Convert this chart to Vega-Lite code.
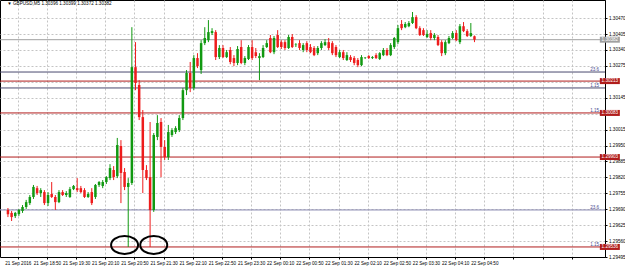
{
"$schema":"https://vega.github.io/schema/vega-lite/v6.json",
"width":605,"height":257,
"autosize":{"type":"none"},
"padding":{"left":0,"top":0,"right":20,"bottom":12},
"background":"white",
"config":{"view":{"stroke":"#000","strokeWidth":1},"font":"Liberation Sans"},
"resolve":{"axis":{"x":"independent","y":"independent"}},
"datasets":{
"candles":[
{"i":0,"o":1.29687,"h":1.29695,"l":1.29658,"c":1.29670},
{"i":1,"o":1.29675,"h":1.29683,"l":1.29642,"c":1.29658},
{"i":2,"o":1.29662,"h":1.29679,"l":1.29654,"c":1.29675},
{"i":3,"o":1.29670,"h":1.29691,"l":1.29662,"c":1.29687},
{"i":4,"o":1.29683,"h":1.29707,"l":1.29675,"c":1.29699},
{"i":5,"o":1.29699,"h":1.29728,"l":1.29691,"c":1.29719},
{"i":6,"o":1.29715,"h":1.29748,"l":1.29707,"c":1.29740},
{"i":7,"o":1.29740,"h":1.29789,"l":1.29732,"c":1.29781},
{"i":8,"o":1.29776,"h":1.29785,"l":1.29748,"c":1.29756},
{"i":9,"o":1.29756,"h":1.29776,"l":1.29740,"c":1.29768},
{"i":10,"o":1.29760,"h":1.29768,"l":1.29707,"c":1.29715},
{"i":11,"o":1.29715,"h":1.29760,"l":1.29703,"c":1.29748},
{"i":12,"o":1.29752,"h":1.29801,"l":1.29736,"c":1.29740},
{"i":13,"o":1.29740,"h":1.29748,"l":1.29687,"c":1.29719},
{"i":14,"o":1.29719,"h":1.29768,"l":1.29715,"c":1.29760},
{"i":15,"o":1.29760,"h":1.29768,"l":1.29744,"c":1.29748},
{"i":16,"o":1.29748,"h":1.29764,"l":1.29740,"c":1.29756},
{"i":17,"o":1.29740,"h":1.29781,"l":1.29736,"c":1.29772},
{"i":18,"o":1.29772,"h":1.29789,"l":1.29768,"c":1.29785},
{"i":19,"o":1.29776,"h":1.29817,"l":1.29760,"c":1.29768},
{"i":20,"o":1.29776,"h":1.29785,"l":1.29756,"c":1.29760},
{"i":21,"o":1.29768,"h":1.29776,"l":1.29736,"c":1.29740},
{"i":22,"o":1.29740,"h":1.29760,"l":1.29736,"c":1.29752},
{"i":23,"o":1.29760,"h":1.29776,"l":1.29707,"c":1.29715},
{"i":24,"o":1.29740,"h":1.29793,"l":1.29732,"c":1.29789},
{"i":25,"o":1.29789,"h":1.29805,"l":1.29781,"c":1.29801},
{"i":26,"o":1.29785,"h":1.29809,"l":1.29776,"c":1.29801},
{"i":27,"o":1.29801,"h":1.29825,"l":1.29793,"c":1.29821},
{"i":28,"o":1.29817,"h":1.29874,"l":1.29809,"c":1.29858},
{"i":29,"o":1.29850,"h":1.29866,"l":1.29809,"c":1.29821},
{"i":30,"o":1.29825,"h":1.29981,"l":1.29817,"c":1.29952},
{"i":31,"o":1.29948,"h":1.29972,"l":1.29715,"c":1.29838},
{"i":32,"o":1.29842,"h":1.29858,"l":1.29768,"c":1.29781},
{"i":33,"o":1.29781,"h":1.29817,"l":1.29536,"c":1.29797},
{"i":34,"o":1.29797,"h":1.30433,"l":1.29789,"c":1.30270},
{"i":35,"o":1.30270,"h":1.30372,"l":1.30176,"c":1.30205},
{"i":36,"o":1.30197,"h":1.30217,"l":1.30054,"c":1.30066},
{"i":37,"o":1.30066,"h":1.30095,"l":1.29756,"c":1.29850},
{"i":38,"o":1.29850,"h":1.29870,"l":1.29809,"c":1.29817},
{"i":39,"o":1.29821,"h":1.30046,"l":1.29536,"c":1.29687},
{"i":40,"o":1.29687,"h":1.30001,"l":1.29679,"c":1.29993},
{"i":41,"o":1.29985,"h":1.30074,"l":1.29972,"c":1.30042},
{"i":42,"o":1.30046,"h":1.30062,"l":1.29821,"c":1.29944},
{"i":43,"o":1.29944,"h":1.29972,"l":1.29891,"c":1.29903},
{"i":44,"o":1.29903,"h":1.30034,"l":1.29891,"c":1.30005},
{"i":45,"o":1.29993,"h":1.30021,"l":1.29985,"c":1.30013},
{"i":46,"o":1.30005,"h":1.30029,"l":1.29997,"c":1.30021},
{"i":47,"o":1.30013,"h":1.30074,"l":1.30005,"c":1.30062},
{"i":48,"o":1.30062,"h":1.30185,"l":1.30054,"c":1.30176},
{"i":49,"o":1.30176,"h":1.30258,"l":1.30156,"c":1.30246},
{"i":50,"o":1.30246,"h":1.30291,"l":1.30168,"c":1.30185},
{"i":51,"o":1.30185,"h":1.30319,"l":1.30176,"c":1.30307},
{"i":52,"o":1.30307,"h":1.30327,"l":1.30266,"c":1.30274},
{"i":53,"o":1.30258,"h":1.30380,"l":1.30242,"c":1.30368},
{"i":54,"o":1.30368,"h":1.30433,"l":1.30360,"c":1.30389},
{"i":55,"o":1.30380,"h":1.30462,"l":1.30372,"c":1.30413},
{"i":56,"o":1.30409,"h":1.30429,"l":1.30401,"c":1.30417},
{"i":57,"o":1.30413,"h":1.30421,"l":1.30299,"c":1.30311},
{"i":58,"o":1.30311,"h":1.30360,"l":1.30303,"c":1.30348},
{"i":59,"o":1.30348,"h":1.30360,"l":1.30307,"c":1.30311},
{"i":60,"o":1.30311,"h":1.30340,"l":1.30307,"c":1.30331},
{"i":61,"o":1.30340,"h":1.30352,"l":1.30282,"c":1.30291},
{"i":62,"o":1.30307,"h":1.30319,"l":1.30274,"c":1.30287},
{"i":63,"o":1.30287,"h":1.30356,"l":1.30278,"c":1.30344},
{"i":64,"o":1.30352,"h":1.30380,"l":1.30282,"c":1.30287},
{"i":65,"o":1.30287,"h":1.30315,"l":1.30278,"c":1.30307},
{"i":66,"o":1.30303,"h":1.30360,"l":1.30299,"c":1.30352},
{"i":67,"o":1.30352,"h":1.30380,"l":1.30299,"c":1.30307},
{"i":68,"o":1.30331,"h":1.30348,"l":1.30307,"c":1.30315},
{"i":69,"o":1.30307,"h":1.30327,"l":1.30217,"c":1.30315},
{"i":70,"o":1.30311,"h":1.30360,"l":1.30307,"c":1.30348},
{"i":71,"o":1.30352,"h":1.30380,"l":1.30348,"c":1.30368},
{"i":72,"o":1.30389,"h":1.30401,"l":1.30327,"c":1.30331},
{"i":73,"o":1.30331,"h":1.30397,"l":1.30323,"c":1.30389},
{"i":74,"o":1.30401,"h":1.30421,"l":1.30348,"c":1.30352},
{"i":75,"o":1.30372,"h":1.30380,"l":1.30344,"c":1.30352},
{"i":76,"o":1.30372,"h":1.30380,"l":1.30340,"c":1.30348},
{"i":77,"o":1.30348,"h":1.30401,"l":1.30344,"c":1.30393},
{"i":78,"o":1.30393,"h":1.30405,"l":1.30348,"c":1.30352},
{"i":79,"o":1.30360,"h":1.30368,"l":1.30352,"c":1.30362},
{"i":80,"o":1.30368,"h":1.30380,"l":1.30340,"c":1.30348},
{"i":81,"o":1.30340,"h":1.30368,"l":1.30331,"c":1.30360},
{"i":82,"o":1.30368,"h":1.30376,"l":1.30331,"c":1.30340},
{"i":83,"o":1.30352,"h":1.30364,"l":1.30327,"c":1.30331},
{"i":84,"o":1.30348,"h":1.30356,"l":1.30315,"c":1.30319},
{"i":85,"o":1.30327,"h":1.30356,"l":1.30319,"c":1.30348},
{"i":86,"o":1.30348,"h":1.30376,"l":1.30340,"c":1.30368},
{"i":87,"o":1.30360,"h":1.30384,"l":1.30356,"c":1.30372},
{"i":88,"o":1.30372,"h":1.30389,"l":1.30340,"c":1.30348},
{"i":89,"o":1.30368,"h":1.30376,"l":1.30319,"c":1.30327},
{"i":90,"o":1.30352,"h":1.30360,"l":1.30311,"c":1.30319},
{"i":91,"o":1.30311,"h":1.30340,"l":1.30307,"c":1.30331},
{"i":92,"o":1.30331,"h":1.30340,"l":1.30299,"c":1.30307},
{"i":93,"o":1.30299,"h":1.30331,"l":1.30295,"c":1.30319},
{"i":94,"o":1.30311,"h":1.30319,"l":1.30291,"c":1.30299},
{"i":95,"o":1.30307,"h":1.30315,"l":1.30278,"c":1.30287},
{"i":96,"o":1.30299,"h":1.30307,"l":1.30270,"c":1.30278},
{"i":97,"o":1.30278,"h":1.30319,"l":1.30274,"c":1.30311},
{"i":98,"o":1.30307,"h":1.30311,"l":1.30303,"c":1.30309},
{"i":99,"o":1.30315,"h":1.30319,"l":1.30303,"c":1.30307},
{"i":100,"o":1.30307,"h":1.30315,"l":1.30303,"c":1.30311},
{"i":101,"o":1.30319,"h":1.30327,"l":1.30303,"c":1.30307},
{"i":102,"o":1.30303,"h":1.30331,"l":1.30299,"c":1.30327},
{"i":103,"o":1.30319,"h":1.30348,"l":1.30315,"c":1.30340},
{"i":104,"o":1.30340,"h":1.30348,"l":1.30315,"c":1.30319},
{"i":105,"o":1.30319,"h":1.30368,"l":1.30315,"c":1.30360},
{"i":106,"o":1.30352,"h":1.30393,"l":1.30344,"c":1.30389},
{"i":107,"o":1.30372,"h":1.30442,"l":1.30364,"c":1.30429},
{"i":108,"o":1.30446,"h":1.30462,"l":1.30421,"c":1.30429},
{"i":109,"o":1.30433,"h":1.30454,"l":1.30429,"c":1.30446},
{"i":110,"o":1.30437,"h":1.30458,"l":1.30433,"c":1.30450},
{"i":111,"o":1.30450,"h":1.30495,"l":1.30446,"c":1.30474},
{"i":112,"o":1.30474,"h":1.30482,"l":1.30425,"c":1.30429},
{"i":113,"o":1.30429,"h":1.30437,"l":1.30397,"c":1.30401},
{"i":114,"o":1.30421,"h":1.30429,"l":1.30397,"c":1.30401},
{"i":115,"o":1.30393,"h":1.30421,"l":1.30389,"c":1.30405},
{"i":116,"o":1.30409,"h":1.30421,"l":1.30380,"c":1.30389},
{"i":117,"o":1.30389,"h":1.30409,"l":1.30380,"c":1.30401},
{"i":118,"o":1.30393,"h":1.30401,"l":1.30356,"c":1.30360},
{"i":119,"o":1.30372,"h":1.30380,"l":1.30315,"c":1.30327},
{"i":120,"o":1.30327,"h":1.30380,"l":1.30319,"c":1.30372},
{"i":121,"o":1.30368,"h":1.30397,"l":1.30364,"c":1.30389},
{"i":122,"o":1.30389,"h":1.30417,"l":1.30384,"c":1.30409},
{"i":123,"o":1.30409,"h":1.30421,"l":1.30376,"c":1.30380},
{"i":124,"o":1.30372,"h":1.30446,"l":1.30364,"c":1.30437},
{"i":125,"o":1.30437,"h":1.30454,"l":1.30413,"c":1.30417},
{"i":126,"o":1.30417,"h":1.30425,"l":1.30393,"c":1.30397},
{"i":127,"o":1.30397,"h":1.30450,"l":1.30393,"c":1.30409},
{"i":128,"o":1.30396,"h":1.30399,"l":1.30372,"c":1.30382}
],
"levels":[
{"p":1.30382,"kind":"bid"},
{"p":1.30250,"kind":"fib"},
{"p":1.30213,"kind":"line"},
{"p":1.30185,"kind":"fib"},
{"p":1.30083,"kind":"line"},
{"p":1.29903,"kind":"line"},
{"p":1.29687,"kind":"fib2"},
{"p":1.29536,"kind":"line"}
],
"fibtext":[
{"p":1.30250,"t":"23.6"},
{"p":1.30185,"t":"1.15"},
{"p":1.30083,"t":"1.15"},
{"p":1.29687,"t":"23.6"},
{"p":1.29536,"t":"1.15"}
],
"boxes":[
{"p":1.30382,"box":"bid","t":"1.30382"},
{"p":1.30213,"box":"line","t":"1.30213"},
{"p":1.30083,"box":"line","t":"1.30083"},
{"p":1.29903,"box":"line","t":"1.29903"},
{"p":1.29536,"box":"line","t":"1.29536"}
],
"rings":[{"i":32.0,"p":1.29544},{"i":40.0,"p":1.29544}],
"head":[{"t":"▼ GBPUSD,M5  1.30396 1.30399 1.30372 1.30382"}]
},
"layer":[
{
"data":{"name":"levels"},
"mark":{"type":"rule","strokeWidth":1},
"encoding":{
"y":{"field":"p","type":"quantitative","title":null,"scale":{"domain":[1.29495,1.30544],"nice":false,"zero":false},
"axis":{"orient":"right","title":null,"values":[1.29495,1.29560,1.29625,1.29690,1.29755,1.29820,1.29885,1.29950,1.30015,1.30080,1.30145,1.30210,1.30275,1.30340,1.30405,1.30470],
"labelExpr":"(abs(datum.value-1.30210)<0.00001 || abs(datum.value-1.30080)<0.00001) ? '' : format(datum.value,'.5f')",
"grid":true,"gridColor":"#c4c4c4","gridDash":[2,2],"gridWidth":1,"labelFontSize":4.6,"labelColor":"#000","labelFont":"Liberation Sans","tickSize":2,"tickColor":"#000","labelPadding":1.5,"labelFlush":false,"labelOverlap":false,"domainColor":"#000","domainWidth":1}},
"color":{"field":"kind","type":"nominal","legend":null,"scale":{"domain":["bid","fib","line","fib2"],"range":["#a0a0a0","#4a4a6e","#b01c1c","#8888b0"]}}
}
},
{
"data":{"name":"candles"},
"mark":{"type":"rule","strokeWidth":1},
"encoding":{
"x":{"field":"i","type":"quantitative","title":null,"scale":{"domain":[-0.81,162.44],"nice":false,"zero":false},
"axis":{"title":null,"values":[2.7,10.7,18.7,26.7,34.7,42.7,50.7,58.7,66.7,74.7,82.7,90.7,98.7,106.7,114.7,122.7,130.7,138.7,146.7,154.7],
"labelExpr":"['21 Sep 2016','21 Sep 18:50','21 Sep 19:30','21 Sep 20:10','21 Sep 20:50','21 Sep 21:30','21 Sep 22:10','21 Sep 22:50','21 Sep 23:30','22 Sep 00:10','22 Sep 00:50','22 Sep 01:30','22 Sep 02:10','22 Sep 02:50','22 Sep 03:30','22 Sep 04:10','22 Sep 04:50'][round((datum.value-2.7)/8)] || ''",
"grid":true,"gridColor":"#c4c4c4","gridDash":[2,2],"gridWidth":1,"labelFontSize":4.6,"labelColor":"#000","labelFont":"Liberation Sans","tickSize":2,"tickColor":"#000","labelPadding":1.5,"labelFlush":false,"labelOverlap":false,"domainColor":"#000"}},
"y":{"field":"l","type":"quantitative","title":null,"scale":{"domain":[1.29495,1.30544],"nice":false,"zero":false},"axis":null},
"y2":{"field":"h"},
"color":{"condition":{"test":"datum.c >= datum.o","value":"#119911"},"value":"#ee1c1c"}
}
},
{
"data":{"name":"candles"},
"mark":{"type":"bar","size":2.5},
"encoding":{
"x":{"field":"i","type":"quantitative","title":null,"scale":{"domain":[-0.81,162.44],"nice":false,"zero":false},"axis":null},
"y":{"field":"o","type":"quantitative","title":null,"scale":{"domain":[1.29495,1.30544],"nice":false,"zero":false},"axis":null},
"y2":{"field":"c"},
"color":{"condition":{"test":"datum.c >= datum.o","value":"#119911"},"value":"#ee1c1c"}
}
},
{
"data":{"name":"fibtext"},
"mark":{"type":"text","align":"right","baseline":"bottom","fontSize":4.6,"color":"#4b4b8f","dy":0},
"encoding":{
"x":{"datum":162.2,"type":"quantitative","scale":{"domain":[-0.81,162.44],"nice":false,"zero":false},"axis":null},
"y":{"field":"p","type":"quantitative","title":null,"scale":{"domain":[1.29495,1.30544],"nice":false,"zero":false},"axis":null},
"text":{"field":"t"}
}
},
{
"data":{"name":"boxes"},
"mark":{"type":"point","shape":"M -1 -0.3 L 1 -0.3 L 1 0.3 L -1 0.3 Z","size":400,"filled":true,"opacity":1,"strokeWidth":0},
"encoding":{
"x":{"datum":165.14,"type":"quantitative","scale":{"domain":[-0.81,162.44],"nice":false,"zero":false},"axis":null},
"y":{"field":"p","type":"quantitative","title":null,"scale":{"domain":[1.29495,1.30544],"nice":false,"zero":false},"axis":null},
"color":{"field":"box","type":"nominal","legend":null,"scale":{"domain":["bid","line"],"range":["#000000","#e3161b"]}}
}
},
{
"data":{"name":"boxes"},
"mark":{"type":"text","align":"center","baseline":"middle","fontSize":4.6,"color":"#ffffff"},
"encoding":{
"x":{"datum":165.14,"type":"quantitative","scale":{"domain":[-0.81,162.44],"nice":false,"zero":false},"axis":null},
"y":{"field":"p","type":"quantitative","title":null,"scale":{"domain":[1.29495,1.30544],"nice":false,"zero":false},"axis":null},
"text":{"field":"t"}
}
},
{
"data":{"name":"rings"},
"mark":{"type":"point","shape":"M -1 0 A 1 0.667 0 1 1 1 0 A 1 0.667 0 1 1 -1 0 Z","size":729,"filled":false,"stroke":"#000","strokeWidth":2,"opacity":1},
"encoding":{
"x":{"field":"i","type":"quantitative","title":null,"scale":{"domain":[-0.81,162.44],"nice":false,"zero":false},"axis":null},
"y":{"field":"p","type":"quantitative","title":null,"scale":{"domain":[1.29495,1.30544],"nice":false,"zero":false},"axis":null}
}
},
{
"data":{"name":"head"},
"mark":{"type":"text","align":"left","baseline":"middle","fontSize":4.6,"color":"#000"},
"encoding":{
"x":{"datum":-0.2,"type":"quantitative","scale":{"domain":[-0.81,162.44],"nice":false,"zero":false},"axis":null},
"y":{"datum":1.30528,"type":"quantitative","scale":{"domain":[1.29495,1.30544],"nice":false,"zero":false},"axis":null},
"text":{"field":"t"}
}
}
]
}
